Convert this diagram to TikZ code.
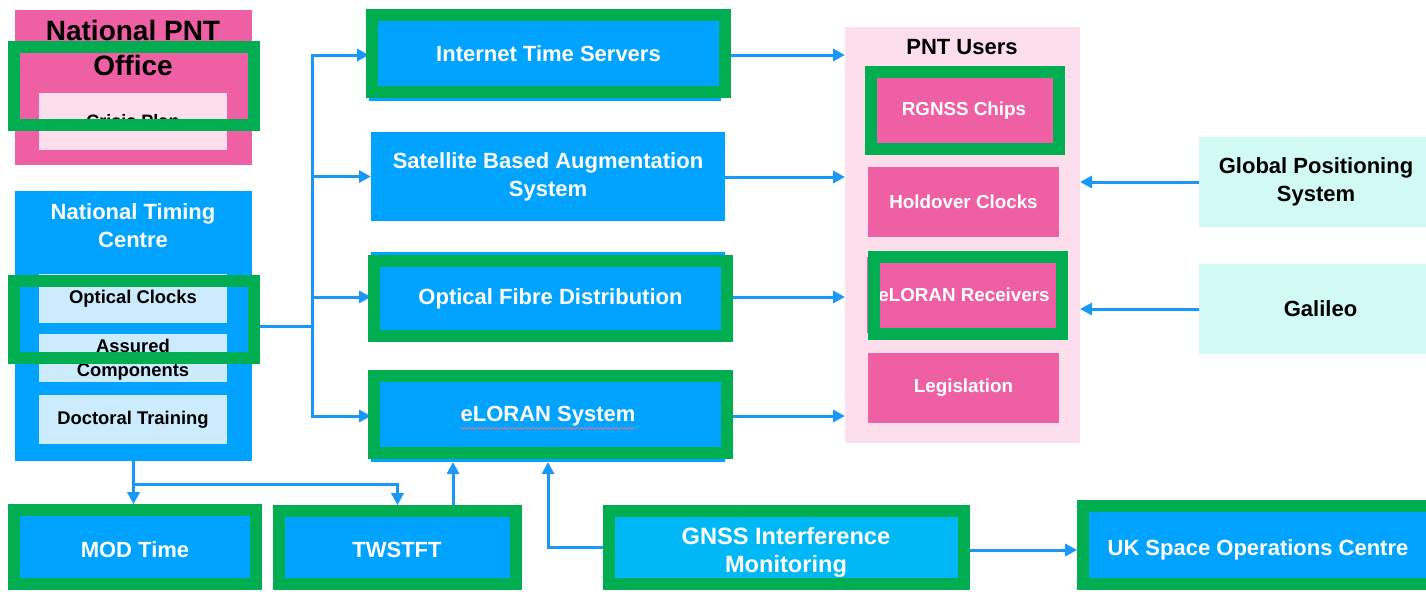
\documentclass[tikz,border=0pt]{standalone}
\usepackage{fontspec}
\setmainfont{Liberation Sans}
\usetikzlibrary{arrows.meta,decorations.pathmorphing}
\definecolor{bluef}{RGB}{0,163,255}
\definecolor{bluelt}{RGB}{0,184,245}
\definecolor{pinkf}{RGB}{238,95,163}
\definecolor{pinklt}{RGB}{252,222,236}
\definecolor{bluepale}{RGB}{204,235,252}
\definecolor{cyanpale}{RGB}{210,250,245}
\definecolor{grn}{RGB}{0,173,80}
\definecolor{arrc}{RGB}{25,152,250}
\tikzset{
  sz/.style 2 args={minimum width=#1*0.5pt, minimum height=#2*0.5pt},
  box/.style={rectangle, inner sep=0pt, outer sep=0pt, align=center, text=white,
    font=\bfseries\fontsize{11}{14}\selectfont},
  subbox/.style={box, text=black, font=\bfseries\fontsize{9.2}{12}\selectfont},
  userbox/.style={box, fill=pinkf, font=\bfseries\fontsize{9.4}{12}\selectfont},
  grnbox/.style={rectangle, inner sep=0pt, draw=grn, line width=5.8pt, align=center, text=white,
    font=\bfseries\fontsize{11}{14}\selectfont},
  ttl/.style={align=center, inner sep=0pt, font=\bfseries\fontsize{11}{14}\selectfont},
  lbl/.style={ttl, text=white},
  ln/.style={draw=arrc, line width=1.5pt},
  arr/.style={ln, -{Triangle[length=6pt,width=6pt]}},
  spell/.style={draw=red!55, line width=0.35pt, decorate,
    decoration={snake, amplitude=0.45pt, segment length=2pt}},
}
\begin{document}
\begin{tikzpicture}[x=0.5pt,y=-0.5pt]
\useasboundingbox (0,0) rectangle (1426,591);
% left column
\node[box, fill=pinkf, sz={237}{155}] (office) at (133.5,87.5) {};
\node[ttl, text=black, font=\bfseries\fontsize{14}{17.5}\selectfont] (officeT) at (133,48) {National PNT\\Office};
\node[subbox, fill=pinklt, sz={188}{57}, font=\bfseries\fontsize{9}{12}\selectfont] (crisis) at (133,121.5) {Crisis Plan};
\node[box, fill=bluef, sz={237}{270}] (ntc) at (133.5,326) {};
\node[lbl] (ntcT) at (133,226) {National Timing\\Centre};
\node[subbox, fill=bluepale, sz={188}{49}] (optc) at (133,298.5) {Optical Clocks};
\node[subbox, fill=bluepale, sz={188}{48}] (assc) at (133,358) {};
\node[ttl, text=black, font=\bfseries\fontsize{9.2}{12}\selectfont] (asscT) at (133,360) {Assured\\Components};
\node[subbox, fill=bluepale, sz={188}{49}] (doct) at (133,419.5) {Doctoral Training};
% middle column
\node[box, fill=bluef, sz={352}{86}] (its) at (545,58) {};
\node[box, fill=bluef, sz={354}{89}] (sbas) at (548,176.5) {Satellite Based Augmentation\\System};
\node[box, fill=bluef, sz={354}{90}] (ofd) at (548,297) {};
\node[box, fill=bluef, sz={354}{88}] (elo) at (548,418) {};
% users
\node[box, fill=pinklt, sz={235}{416}] (pnt) at (962.5,235) {};
\node[ttl, text=black] (pntT) at (962,47) {PNT Users};
\node[userbox, sz={188}{77}] (rg) at (964,110.5) {RGNSS Chips};
\node[userbox, sz={191}{70}] (hc) at (963.5,202) {Holdover Clocks};
\node[userbox, sz={194}{76}] (er) at (964,295) {eLORAN Receivers};
\node[userbox, sz={191}{70}] (leg) at (963.5,388) {Legislation};
% GNSS sources
\node[box, fill=cyanpale, sz={227}{90}] (gps) at (1312.5,182) {};
\node[ttl, text=black] (gpsT) at (1316,182) {Global Positioning\\System};
\node[box, fill=cyanpale, text=black, sz={227}{90}] (gal) at (1312.5,309) {\hspace*{8pt}Galileo};
% bottom row
\node[grnbox, fill=bluef, sz={242}{74}] (mod) at (135,547) {};
\node[grnbox, fill=bluef, sz={237}{73}] (tw) at (397.5,547.5) {};
\node[grnbox, fill=bluelt, sz={355}{73}] (gn) at (786.5,547.5) {};
\node[grnbox, fill=bluef, sz={349}{78}] (uk) at (1257.5,545) {};
\node[lbl] (modT) at (135,550) {MOD Time};
\node[lbl] (twT) at (397,550) {TWSTFT};
\node[lbl, font=\bfseries\fontsize{11.8}{14}\selectfont] (gnT) at (786,552) {GNSS Interference\\Monitoring};
\node[lbl] (ukT) at (1258,550) {UK Space Operations Centre};
% connectors
\coordinate (bus) at (312,326);
\coordinate (split) at (133,484);
\coordinate (twup) at (453,0);
\coordinate (gup) at (548,0);
\draw[ln] (ntc.east) -- (bus);
\draw[arr] (bus) |- (its.west |- 0,55);
\draw[arr] (bus) |- (sbas.west);
\draw[arr] (bus) |- (ofd.west |- 0,297);
\draw[arr] (bus) |- (elo.west |- 0,416);
\draw[arr] (its.east |- 0,55) -- (pnt.west |- 0,55);
\draw[arr] (sbas.east |- 0,177) -- (pnt.west |- 0,177);
\draw[arr] (ofd.east |- 0,297) -- (pnt.west |- 0,297);
\draw[arr] (elo.east |- 0,416) -- (pnt.west |- 0,416);
\draw[arr] (gps.west) -- (gps.west -| pnt.east);
\draw[arr] (gal.west) -- (gal.west -| pnt.east);
\draw[arr] (ntc.south) -- (ntc.south |- mod.north);
\draw[arr] (ntc.south |- split) -| (tw.north);
\draw[arr] (tw.north -| twup) -- (twup |- elo.south);
\draw[arr] (gn.west) -| (gup |- elo.south);
\draw[arr] (gn.east |- 0,550) -- (uk.west |- 0,550);
% green highlight frames
\node[grnbox, sz={240}{78}] (gCrisis) at (134,86) {};
\node[grnbox, sz={240}{77}] (gOpt) at (134,319.5) {};
\node[grnbox, sz={353}{77}] (gIts) at (548.5,53.5) {Internet Time Servers};
\node[grnbox, sz={353}{75}] (gOfd) at (550.5,298.5) {Optical Fibre Distribution};
\node[grnbox, sz={353}{77}] (gElo) at (550.5,414.5) {};
\node[lbl] (eloT) at (548,416) {eLORAN System};
\draw[spell] (eloT.south west) ++(0,2) -- ([yshift=-1pt]eloT.south east);
\node[grnbox, sz={188}{77}] (gRg) at (965,110.5) {};
\node[grnbox, sz={188}{77}] (gEr) at (968,295.5) {};
\end{tikzpicture}
\end{document}
